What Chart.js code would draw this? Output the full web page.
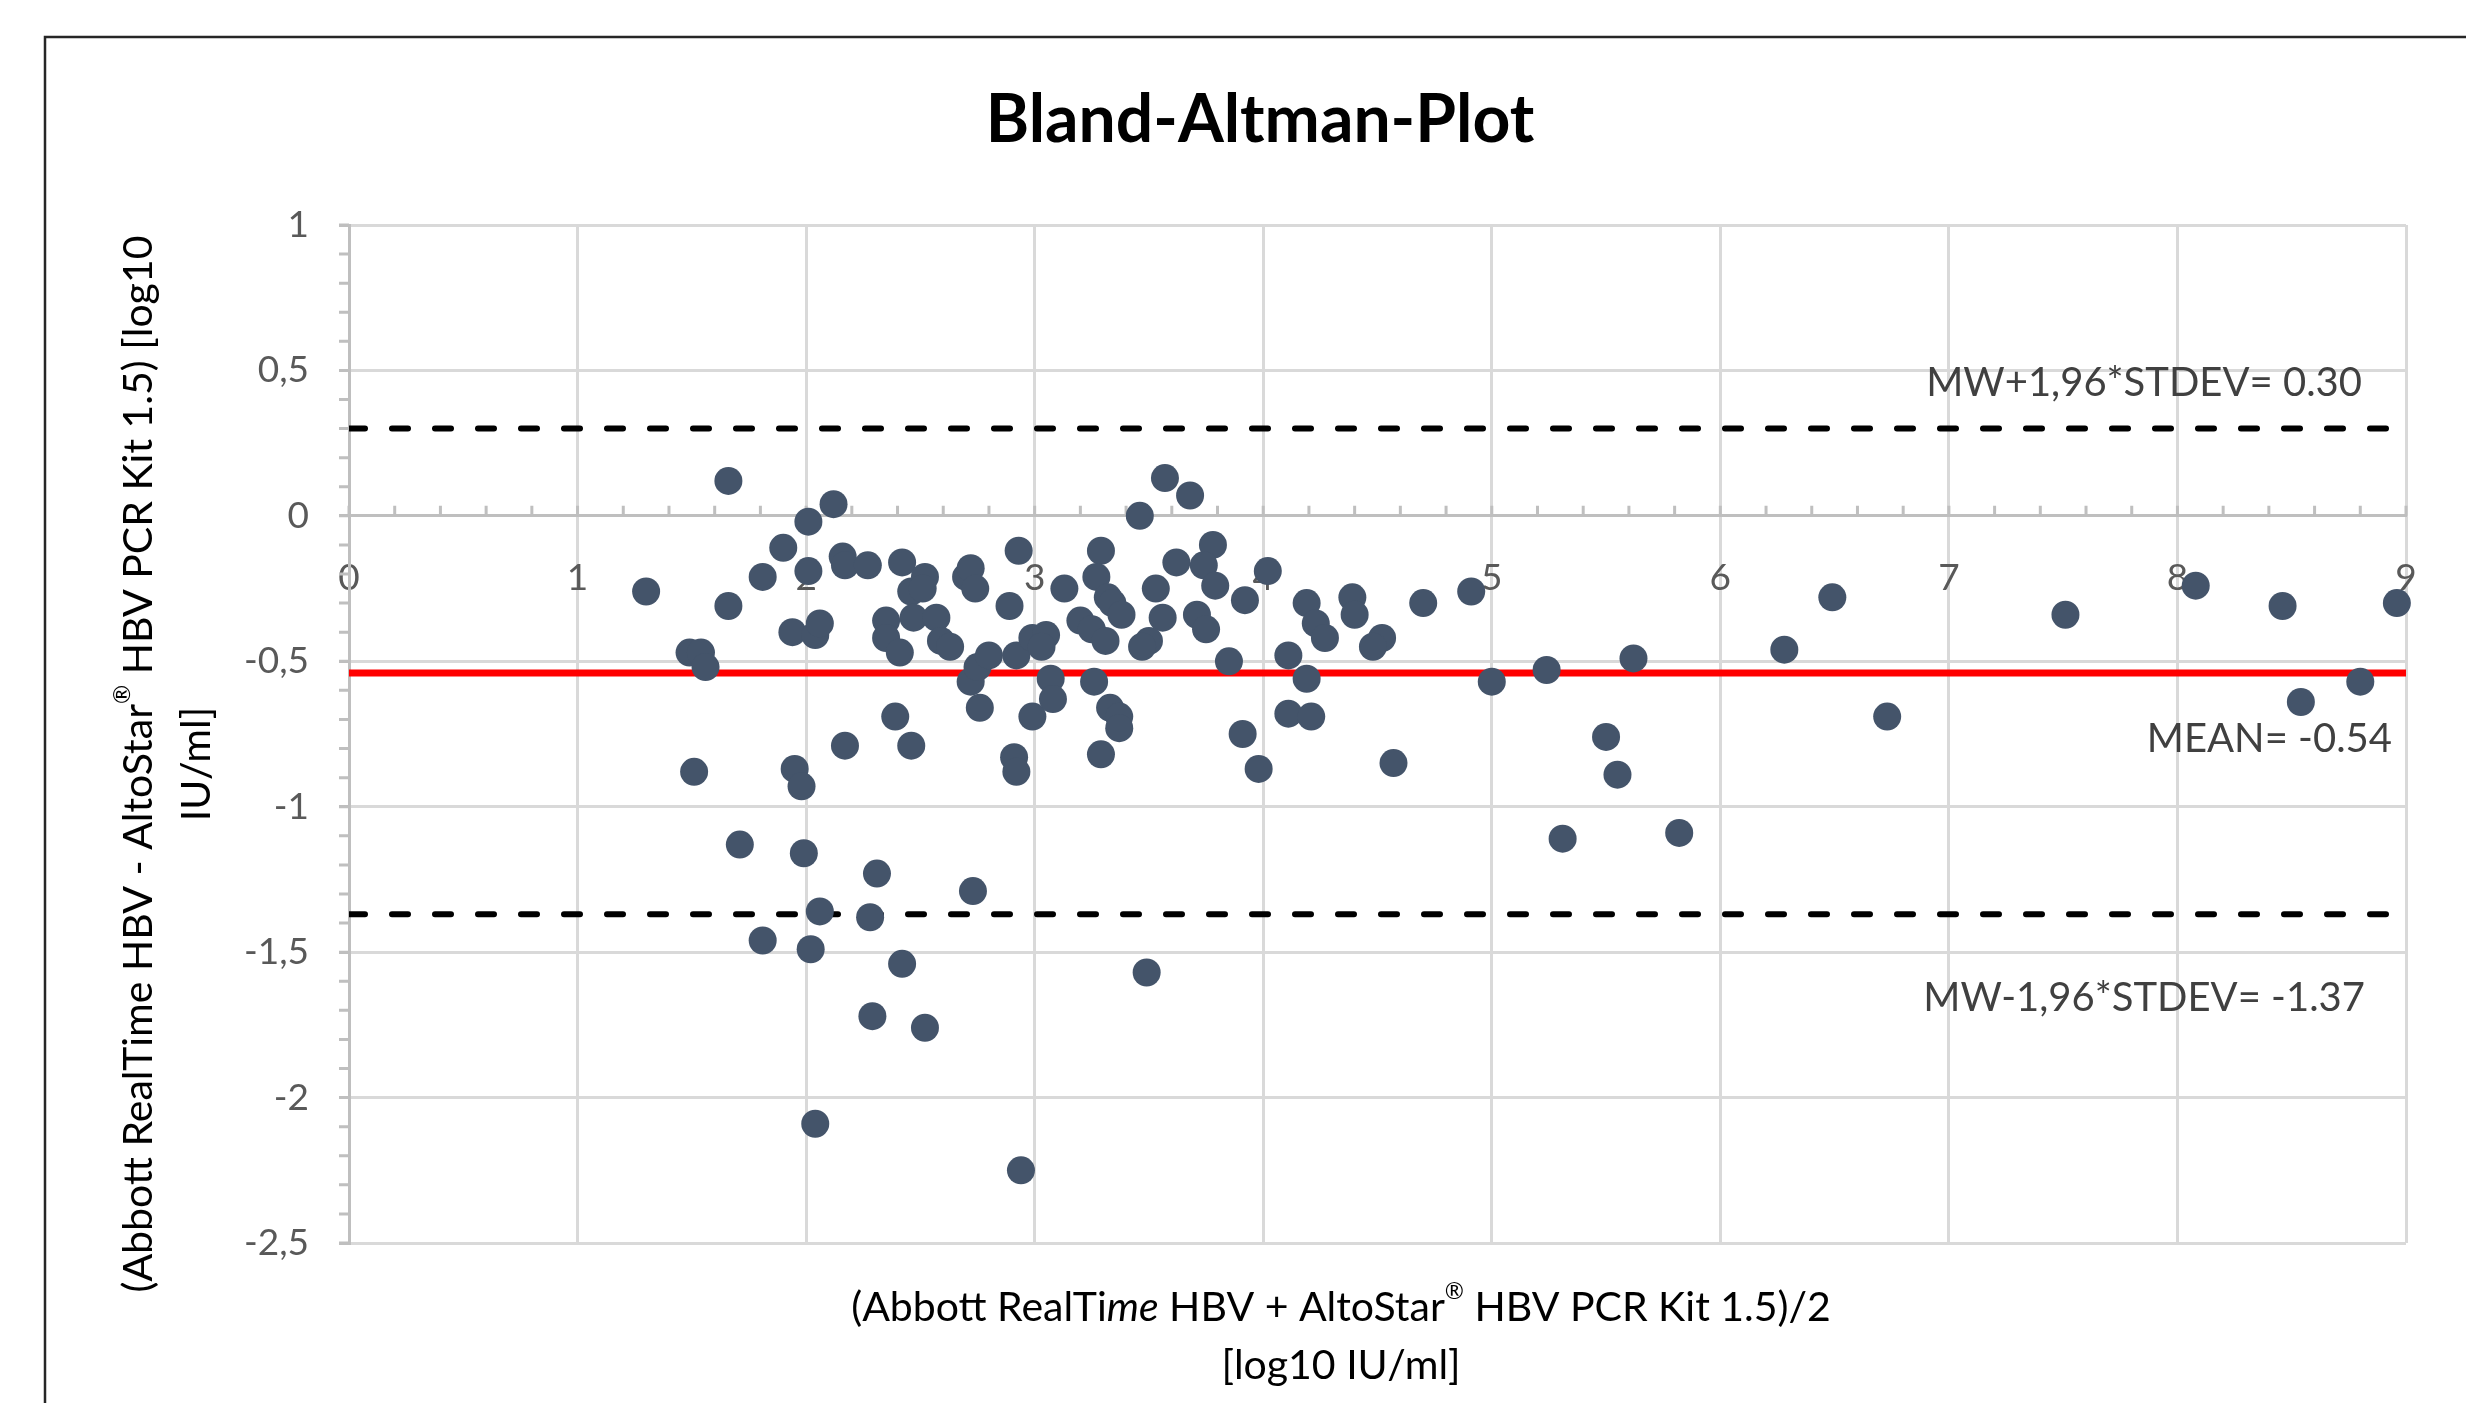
<!DOCTYPE html>
<html>
<head>
<meta charset="utf-8">
<title>Bland-Altman-Plot</title>
<script src="https://cdn.jsdelivr.net/npm/chart.js@4.4.1/dist/chart.umd.min.js"></script>
<style>
    html, body { margin: 0; padding: 0; background: #ffffff; }
    #wrap { width: 2466px; height: 1403px; position: relative; }
</style>
</head>
<body>
<div id="wrap"><canvas id="bland-altman" width="2466" height="1403"></canvas></div>
<script>
// Mean of both methods (x) and their difference (y)
const meanX = [
    1.30, 1.49, 1.54, 1.56, 1.51, 1.66, 1.66, 1.71, 1.81, 1.81,
    1.90, 1.94, 1.95, 1.98, 1.99, 2.01, 2.01, 2.02, 2.04, 2.04,
    2.06, 2.06, 2.12, 2.16, 2.17, 2.17, 2.27, 2.28, 2.29, 2.31,
    2.35, 2.35, 2.39, 2.41, 2.42, 2.42, 2.46, 2.46, 2.47, 2.52,
    2.51, 2.52, 2.57, 2.59, 2.63, 2.70, 2.72, 2.74, 2.72, 2.75,
    2.76, 2.73, 2.80, 2.89, 2.93, 2.92, 2.91, 2.92, 2.94, 2.99,
    3.05, 3.03, 2.99, 3.07, 3.08, 3.13, 3.20, 3.25, 3.31, 3.29,
    3.27, 3.32, 3.34, 3.38, 3.26, 3.33, 3.37, 3.37, 3.29, 3.46,
    3.57, 3.68, 3.53, 3.62, 3.56, 3.50, 3.47, 3.49, 3.78, 3.74,
    3.79, 3.71, 3.75, 3.85, 3.92, 4.02, 3.91, 3.98, 4.19, 4.23,
    4.27, 4.11, 4.19, 4.11, 4.21, 4.39, 4.40, 4.52, 4.48, 4.57,
    4.70, 4.91, 5.00, 5.24, 5.31, 5.50, 5.55, 5.62, 5.82, 6.28,
    6.49, 6.73, 7.51, 8.08, 8.46, 8.54, 8.80, 8.96
];
const diffY = [
    -0.26, -0.47, -0.47, -0.52, -0.88, 0.12, -0.31, -1.13, -0.21, -1.46,
    -0.11, -0.40, -0.87, -0.93, -1.16, -0.02, -0.19, -1.49, -0.41, -2.09,
    -0.37, -1.36, 0.04, -0.14, -0.17, -0.79, -0.17, -1.38, -1.72, -1.23,
    -0.36, -0.42, -0.69, -0.47, -0.16, -1.54, -0.26, -0.79, -0.35, -0.21,
    -0.25, -1.76, -0.35, -0.43, -0.45, -0.21, -0.18, -0.25, -0.57, -0.52,
    -0.66, -1.29, -0.48, -0.31, -0.12, -0.48, -0.83, -0.88, -2.25, -0.42,
    -0.41, -0.45, -0.69, -0.56, -0.63, -0.25, -0.36, -0.39, -0.43, -0.12,
    -0.21, -0.28, -0.30, -0.34, -0.57, -0.66, -0.69, -0.73, -0.82, 0.00,
    0.13, 0.07, -0.25, -0.16, -0.35, -0.43, -0.45, -1.57, -0.10, -0.17,
    -0.24, -0.34, -0.39, -0.50, -0.29, -0.19, -0.75, -0.87, -0.30, -0.37,
    -0.42, -0.48, -0.56, -0.68, -0.69, -0.28, -0.34, -0.42, -0.45, -0.85,
    -0.30, -0.26, -0.57, -0.53, -1.11, -0.76, -0.89, -0.49, -1.09, -0.46,
    -0.28, -0.69, -0.34, -0.24, -0.31, -0.64, -0.57, -0.30
];

// Mean difference and limits of agreement
const meanDiff = -0.54;
const upperLimit = 0.30;
const lowerLimit = -1.37;
const limitLabels = ['MW+1,96*STDEV= 0.30', 'MEAN= -0.54', 'MW-1,96*STDEV= -1.37'];

// Axis ticks (German decimal comma on the y axis)
const xTickValues = [0, 1, 2, 3, 4, 5, 6, 7, 8, 9];
const xTickLabels = ['0', '1', '2', '3', '4', '5', '6', '7', '8', '9'];
const yTickValues = [1, 0.5, 0, -0.5, -1, -1.5, -2, -2.5];
const yTickLabels = ['1', '0,5', '0', '-0,5', '-1', '-1,5', '-2', '-2,5'];

const chartTitle = 'Bland-Altman-Plot';

// Axis titles as pieces, so the italic part and the ® can be styled
const xTitleLines = [
    [{ t: '(Abbott RealTi' }, { t: 'me', italic: true }, { t: ' HBV + AltoStar' }, { t: '®', sup: true }, { t: ' HBV PCR Kit 1.5)/2' }],
    [{ t: '[log10 IU/ml]' }]
];
const yTitleLines = [
    [{ t: '(Abbott RealTime HBV - AltoStar' }, { t: '®', sup: true }, { t: ' HBV PCR Kit 1.5) [log10' }],
    [{ t: 'IU/ml]' }]
];

const FONT = 'Lato, "Open Sans", sans-serif';
const AXIS_GREY = '#bfbfbf';
const GRID_GREY = '#d9d9d9';

// Draws one line of mixed-style text centred on (cx, cy), optionally rotated
function drawRichLine(ctx, segs, cx, cy, size, rotate) {
    const fontFor = s => (s.italic ? 'italic ' : '') + (s.sup ? Math.round(size * 0.55) : size) + 'px ' + FONT;
    const widths = segs.map(s => { ctx.font = fontFor(s); return ctx.measureText(s.t).width; });
    const total = widths.reduce((a, b) => a + b, 0);

    ctx.save();
    ctx.translate(cx, cy);
    if (rotate) ctx.rotate(-Math.PI / 2);
    ctx.textAlign = 'left';
    ctx.textBaseline = 'middle';
    ctx.fillStyle = '#000000';
    let x = -total / 2;
    segs.forEach((s, i) => {
        ctx.font = fontFor(s);
        ctx.fillText(s.t, x, s.sup ? -size * 0.4 : 0);
        x += widths[i];
    });
    ctx.restore();
}

// Minor tick marks like Excel: x axis ticks point up from y = 0, y axis ticks point left
const minorTicks = {
    id: 'minorTicks',
    beforeDatasetsDraw(chart) {
        const { ctx, scales: { x, y } } = chart;
        const y0 = y.getPixelForValue(0);
        ctx.save();
        ctx.strokeStyle = AXIS_GREY;
        ctx.lineWidth = 3;
        ctx.beginPath();
        for (let k = 0; k <= 45; k++) {
            const px = x.getPixelForValue(k * 0.2);
            ctx.moveTo(px, y0);
            ctx.lineTo(px, y0 - 10);
        }
        for (let k = -25; k <= 10; k++) {
            const py = y.getPixelForValue(k / 10);
            ctx.moveTo(x.left - 10, py);
            ctx.lineTo(x.left, py);
        }
        ctx.stroke();
        ctx.restore();
    }
};

// Title, axis titles, limit labels and the outer chart frame
const chartText = {
    id: 'chartText',
    afterDraw(chart) {
        const { ctx, scales: { x, y } } = chart;
        ctx.save();

        // Outer frame, runs off the right and bottom of the picture
        ctx.strokeStyle = '#262626';
        ctx.lineWidth = 2.5;
        ctx.strokeRect(45, 37, 2600, 1500);

        // Title
        ctx.fillStyle = '#000000';
        ctx.font = 'bold 66px ' + FONT;
        ctx.textAlign = 'center';
        ctx.textBaseline = 'middle';
        ctx.fillText(chartTitle, 1260, 121);

        // Axis titles
        drawRichLine(ctx, xTitleLines[0], 1341, 1308, 41, false);
        drawRichLine(ctx, xTitleLines[1], 1341, 1366, 41, false);
        drawRichLine(ctx, yTitleLines[0], 139, 764, 41, true);
        drawRichLine(ctx, yTitleLines[1], 197, 764, 41, true);

        // Limit labels next to the lines
        const right = x.getPixelForValue(9);
        ctx.fillStyle = '#404040';
        ctx.font = '40px ' + FONT;
        ctx.textAlign = 'right';
        ctx.fillText(limitLabels[0], right - 44, y.getPixelForValue(upperLimit) - 46);
        ctx.fillText(limitLabels[1], right - 14, y.getPixelForValue(meanDiff) + 66);
        ctx.fillText(limitLabels[2], right - 41, y.getPixelForValue(lowerLimit) + 84);

        ctx.restore();
    }
};

function horizontalLine(value, color, width, dash) {
    return {
        data: [{ x: xTickValues[0], y: value }, { x: xTickValues[xTickValues.length - 1], y: value }],
        showLine: true,
        borderColor: color,
        borderWidth: width,
        borderDash: dash,
        borderCapStyle: dash.length ? 'round' : 'butt',
        pointRadius: 0,
        pointHoverRadius: 0,
        order: 2
    };
}

function blandAltmanGraph() {
    let ctx = document.getElementById('bland-altman');

    const points = meanX.map((v, i) => ({ x: v, y: diffY[i] }));

    new Chart(ctx, {
        type: 'scatter',
        data: {
            datasets: [
                {
                    label: 'Differenz',
                    data: points,
                    backgroundColor: '#44546a',
                    borderColor: '#44546a',
                    borderWidth: 0,
                    pointRadius: 14,
                    pointHoverRadius: 14,
                    clip: false,
                    order: 1
                },
                horizontalLine(meanDiff, '#ff0000', 7, []),
                horizontalLine(upperLimit, '#000000', 6, [16, 27]),
                horizontalLine(lowerLimit, '#000000', 6, [16, 27])
            ]
        },
        options: {
            responsive: false,
            devicePixelRatio: 1,
            animation: false,
            events: [],
            layout: {
                padding: { top: 225, right: 60, bottom: 160, left: 0 }
            },
            plugins: {
                legend: { display: false },
                tooltip: { enabled: false }
            },
            scales: {
                // Bottom x axis only carries the vertical grid lines
                x: {
                    type: 'linear',
                    position: 'bottom',
                    min: 0,
                    max: 9,
                    ticks: { display: false, stepSize: 1 },
                    grid: { color: GRID_GREY, lineWidth: 3, drawTicks: false },
                    border: { display: false },
                    afterFit: scale => { scale.height = 0; }
                },
                // Labelled x axis crossing at y = 0
                x2: {
                    type: 'linear',
                    axis: 'x',
                    position: { y: 0 },
                    min: 0,
                    max: 9,
                    ticks: {
                        stepSize: 1,
                        color: '#595959',
                        padding: 40,
                        font: { family: FONT, size: 37 },
                        callback: v => xTickLabels[xTickValues.indexOf(v)]
                    },
                    grid: { drawOnChartArea: false, drawTicks: false },
                    border: { color: AXIS_GREY, width: 3 }
                },
                y: {
                    min: -2.5,
                    max: 1,
                    ticks: {
                        stepSize: 0.5,
                        color: '#595959',
                        padding: 30,
                        font: { family: FONT, size: 37 },
                        callback: v => {
                            const i = yTickValues.indexOf(v);
                            return i >= 0 ? yTickLabels[i] : '';
                        }
                    },
                    grid: { color: GRID_GREY, lineWidth: 3, tickColor: AXIS_GREY, tickLength: 10 },
                    border: { color: AXIS_GREY, width: 3 },
                    afterFit: scale => { scale.width = 349; }
                }
            }
        },
        plugins: [minorTicks, chartText]
    });
}

blandAltmanGraph();
</script>
</body>
</html>
